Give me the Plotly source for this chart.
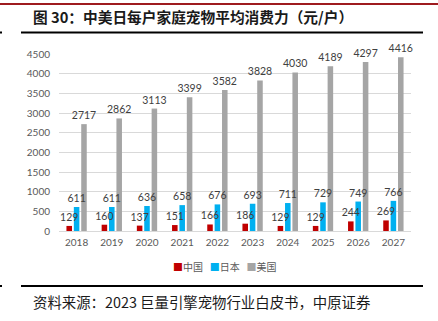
import plotly.graph_objects as go

years = ["2018", "2019", "2020", "2021", "2022", "2023", "2024", "2025", "2026", "2027"]
china = [129, 160, 137, 151, 166, 186, 129, 129, 244, 269]
japan = [611, 611, 636, 658, 676, 693, 711, 729, 749, 766]
usa = [2717, 2862, 3113, 3399, 3582, 3828, 4030, 4189, 4297, 4416]
series_names = ["中国", "日本", "美国"]
colors = ["#C00000", "#00B0F0", "#A5A5A5"]

W, H = 438, 321
L, R, T, B = 59, 27, 54, 90
YMAX = 4500
LABEL_PAD_PX = 3.0  # extra gap between bar top and its data label
label_pad = LABEL_PAD_PX * YMAX / (H - T - B)

fig = go.Figure()
series = list(zip(series_names, [china, japan, usa], colors))
for i, (name, vals, col) in enumerate(series):
    fig.add_trace(go.Bar(
        x=years, y=vals, name=name, offsetgroup=str(i),
        marker=dict(color=col, line=dict(width=0)),
        showlegend=False,
    ))
# data labels drawn on top of all bars
for i, (name, vals, col) in enumerate(series):
    fig.add_trace(go.Bar(
        x=years, y=vals, base=label_pad, name=name + " 标签", offsetgroup=str(i),
        marker=dict(color="rgba(0,0,0,0)", line=dict(width=0)),
        text=[str(v) for v in vals], textposition="outside",
        textfont=dict(family="Lato, Liberation Sans, sans-serif", size=10.5, color="#404040"),
        cliponaxis=False, constraintext="none", showlegend=False, hoverinfo="skip",
    ))

def px_x(p):
    return (p - L) / (W - L - R)

def px_y(p):
    return 1 - (p - T) / (H - T - B)

fig.update_layout(
    width=W, height=H,
    margin=dict(l=L, r=R, t=T, b=B),
    paper_bgcolor="white", plot_bgcolor="white",
    barmode="group", bargap=0.37, bargroupgap=0.25,
    font=dict(family="Lato, Liberation Sans, sans-serif", color="#595959"),
    xaxis=dict(showgrid=False, showline=False, ticks="", tickfont=dict(size=10, color="#595959"),
               ticklabelstandoff=4),
    yaxis=dict(range=[0, YMAX], dtick=500, showgrid=True, gridcolor="#D9D9D9", gridwidth=1,
               zeroline=True, zerolinecolor="#D9D9D9", zerolinewidth=1,
               tickfont=dict(size=10, color="#595959"), ticklabelstandoff=8),
    shapes=[
        dict(type="line", xref="paper", yref="paper", x0=px_x(0), x1=px_x(W), y0=px_y(4), y1=px_y(4),
             line=dict(color="#9E1B1F", width=2)),
        dict(type="line", xref="paper", yref="paper", x0=px_x(21), x1=px_x(423), y0=px_y(32.5), y1=px_y(32.5),
             line=dict(color="#000000", width=2)),
        dict(type="line", xref="paper", yref="paper", x0=px_x(0), x1=px_x(2), y0=px_y(32.5), y1=px_y(32.5),
             line=dict(color="#000000", width=2)),
        dict(type="line", xref="paper", yref="paper", x0=px_x(21), x1=px_x(423), y0=px_y(286), y1=px_y(286),
             line=dict(color="#000000", width=2)),
        dict(type="line", xref="paper", yref="paper", x0=px_x(0), x1=px_x(2), y0=px_y(286), y1=px_y(286),
             line=dict(color="#000000", width=2)),
    ],
    annotations=[
        dict(text="<b>图 30：中美日每户家庭宠物平均消费力（元/户）</b>", xref="paper", yref="paper",
             x=px_x(31), y=px_y(16), xanchor="left", yanchor="middle", showarrow=False,
             font=dict(family="Noto Sans CJK SC", size=14.7, color="#1a1a1a")),
        dict(text="资料来源：2023 巨量引擎宠物行业白皮书，中原证券", xref="paper", yref="paper",
             x=px_x(31), y=px_y(301), xanchor="left", yanchor="middle", showarrow=False,
             font=dict(family="Noto Sans CJK SC", size=14.4, color="#1a1a1a")),
        dict(text="<span style='color:#C00000'>■</span>中国   <span style='color:#00B0F0'>■</span>日本   "
                  "<span style='color:#A5A5A5'>■</span>美国",
             xref="paper", yref="paper", x=px_x(224), y=px_y(266), xanchor="center", yanchor="middle",
             showarrow=False, font=dict(family="Noto Sans CJK SC", size=10, color="#595959")),
    ],
)

fig.write_html("out.html")
